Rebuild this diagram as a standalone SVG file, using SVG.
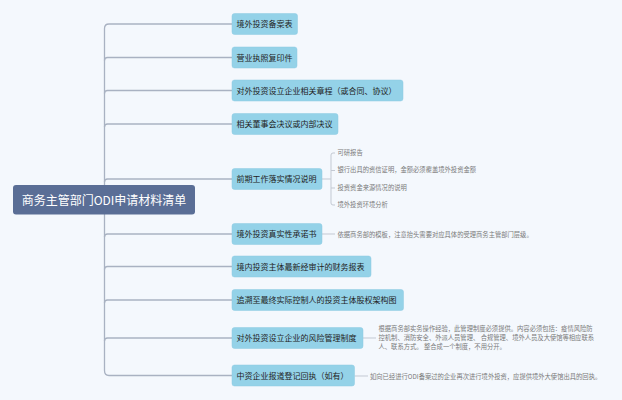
<svg xmlns="http://www.w3.org/2000/svg" width="622" height="400" viewBox="0 0 622 400">
<style>
.bg{fill:#f4f8fd}
.lnk{fill:none;stroke:#a9b2c2;stroke-width:1.3}
.sub{fill:none;stroke:#c3c9d3;stroke-width:1}
.node rect{fill:#94d2e8;stroke:#8ecbe2;stroke-width:0.5}
.node text{font-family:"Noto Sans CJK SC","Noto Sans",sans-serif;font-size:8px;fill:#222}
.note{font-family:"Noto Sans CJK SC","Noto Sans",sans-serif;font-size:6.3px;fill:#7a7a7a}
.root rect{fill:#5a6e96}
.root text{font-family:"Noto Sans CJK SC","Noto Sans",sans-serif;font-size:12px;fill:#ffffff}
</style>
<rect class="bg" x="0" y="0" width="622" height="400"/>
<g id="connectors">
<path class="lnk" d="M232,24 H109 Q104.5,24 104.5,28.5 V370.5 Q104.5,375.5 109,375.5 H232"/>
<path class="lnk" d="M104.5,60.5 Q104.5,57.5 107.5,57.5 H232"/>
<path class="lnk" d="M104.5,93.5 Q104.5,90.5 107.5,90.5 H232"/>
<path class="lnk" d="M104.5,127 Q104.5,124 107.5,124 H232"/>
<path class="lnk" d="M104.5,182 Q104.5,179 107.5,179 H232"/>
<path class="lnk" d="M104.5,237 Q104.5,234 107.5,234 H232"/>
<path class="lnk" d="M104.5,269.5 Q104.5,266.5 107.5,266.5 H232"/>
<path class="lnk" d="M104.5,303 Q104.5,300 107.5,300 H232"/>
<path class="lnk" d="M104.5,341 Q104.5,338 107.5,338 H232"/>
<path class="sub" d="M322,179 H331"/>
<path class="sub" d="M335,153 H333 Q331,153 331,155 V203 Q331,205 333,205 H335"/>
<path class="sub" d="M331,170.5 H335 M331,188 H335"/>
<path class="sub" d="M322,234 H335"/>
<path class="sub" d="M363,338 H376"/>
<path class="sub" d="M354.5,376 H368"/>
</g>
<g id="root" class="root">
<rect x="13" y="185" width="182" height="29.5" rx="3"/>
<text x="104" y="204.5" text-anchor="middle">商务主管部门ODI申请材料清单</text>
</g>
<g id="n1" class="node"><rect x="232" y="13.5" width="65.5" height="21" rx="2.5"/><text x="236.5" y="27">境外投资备案表</text></g>
<g id="n2" class="node"><rect x="232" y="47" width="65" height="21" rx="2.5"/><text x="236.5" y="60.5">营业执照复印件</text></g>
<g id="n3" class="node"><rect x="232" y="80" width="171" height="21" rx="2.5"/><text x="236.5" y="93.5">对外投资设立企业相关章程（或合同、协议）</text></g>
<g id="n4" class="node"><rect x="232" y="113.5" width="106" height="21" rx="2.5"/><text x="236.5" y="127">相关董事会决议或内部决议</text></g>
<g id="n5" class="node"><rect x="232" y="168.5" width="90" height="21" rx="2.5"/><text x="236.5" y="182">前期工作落实情况说明</text></g>
<g id="n5a"><text class="note" x="337.5" y="154.8">可研报告</text></g>
<g id="n5b"><text class="note" x="337.5" y="172.3">银行出具的资信证明，金额必须覆盖境外投资金额</text></g>
<g id="n5c"><text class="note" x="337.5" y="189.8">投资资金来源情况的说明</text></g>
<g id="n5d"><text class="note" x="337.5" y="207.3">境外投资环境分析</text></g>
<g id="n6" class="node"><rect x="232" y="223.5" width="90" height="21" rx="2.5"/><text x="236.5" y="237">境外投资真实性承诺书</text></g>
<g id="n6a"><text class="note" x="337.5" y="236.5">依据商务部的模板，注意抬头需要对应具体的受理商务主管部门层级。</text></g>
<g id="n7" class="node"><rect x="232" y="256" width="139" height="21" rx="2.5"/><text x="236.5" y="269.5">境内投资主体最新经审计的财务报表</text></g>
<g id="n8" class="node"><rect x="232" y="289.5" width="171.5" height="21" rx="2.5"/><text x="236.5" y="303">追溯至最终实际控制人的投资主体股权架构图</text></g>
<g id="n9" class="node"><rect x="232" y="327.5" width="131" height="21" rx="2.5"/><text x="236.5" y="341">对外投资设立企业的风险管理制度</text></g>
<g id="n9a"><text class="note" x="378.5" y="331.3">根据商务部实务操作经验，此管理制度必须提供。内容必须包括：疫情风险防</text><text class="note" x="378.5" y="340.3">控机制、消防安全、外派人员管理、 合规管理、境外人员及大使馆等相应联系</text><text class="note" x="378.5" y="349.3">人、联系方式。 整合成一个制度，不用分开。</text></g>
<g id="n10" class="node"><rect x="232" y="365" width="122.5" height="21" rx="2.5"/><text x="236.5" y="378.5">中资企业报道登记回执（如有）</text></g>
<g id="n10a"><text class="note" x="370" y="379">如向已经进行ODI备案过的企业再次进行境外投资，应提供境外大使馆出具的回执。</text></g>
</svg>
